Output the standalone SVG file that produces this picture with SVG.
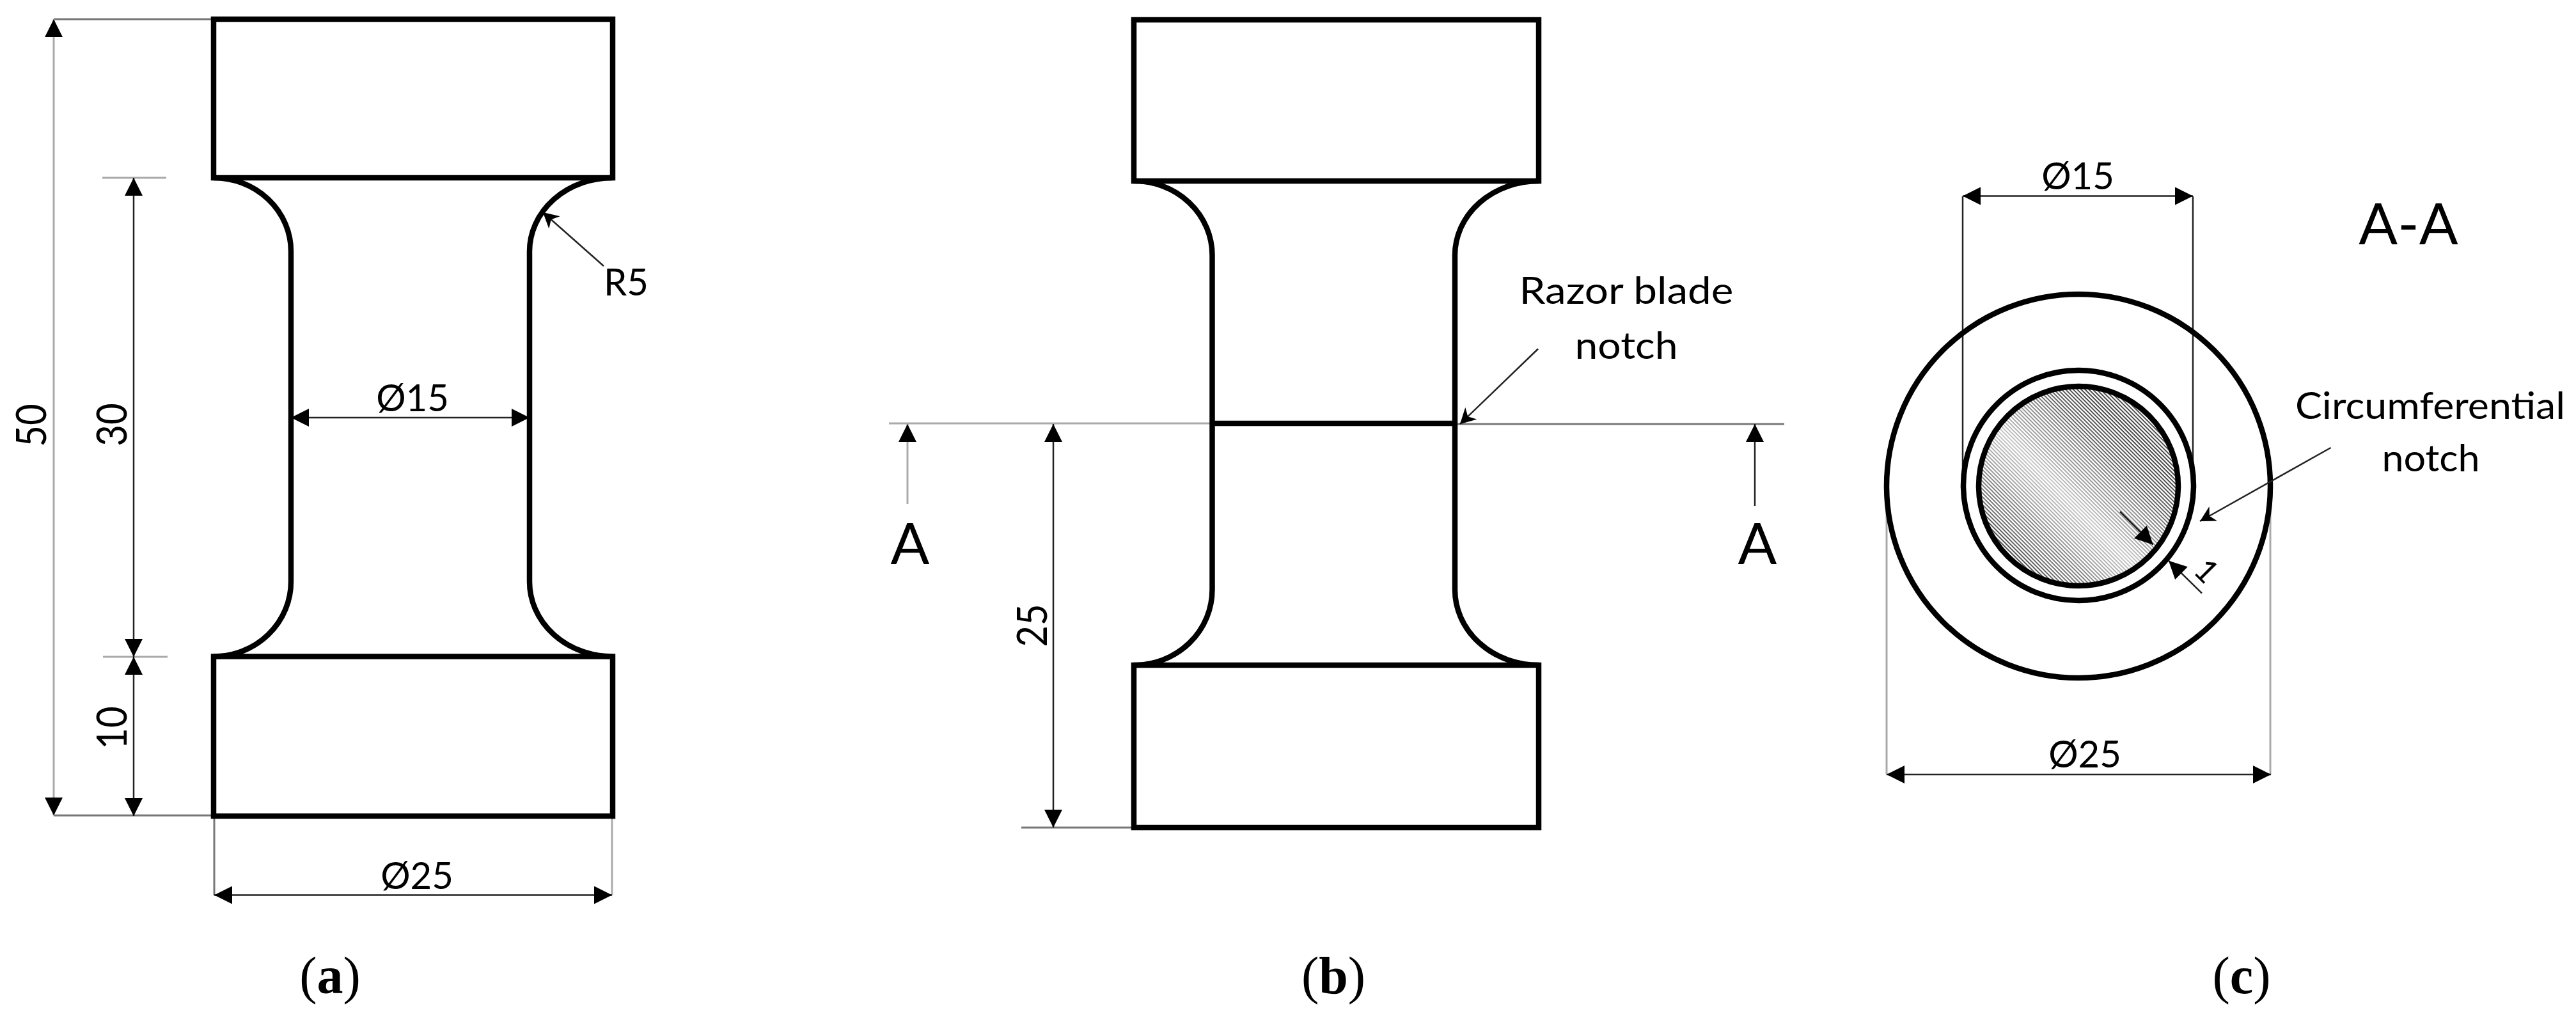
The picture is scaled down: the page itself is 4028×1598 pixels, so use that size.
<svg xmlns="http://www.w3.org/2000/svg" width="4028" height="1598" viewBox="0 0 4028 1598">
<style>
.o{fill:none;stroke:#000;stroke-width:8.500;stroke-linejoin:miter}
.d{fill:none;stroke:#222;stroke-width:2.5}
.g{fill:none;stroke:#aaa;stroke-width:3}
.m{fill:none;stroke:#777;stroke-width:3}
.a{marker-end:url(#ah)}
.b{marker-start:url(#ah);marker-end:url(#ah)}
.s{fill:none;stroke:#222;stroke-width:2.5;marker-end:url(#sh)}
text{font-family:Lato,"Open Sans","Liberation Sans",sans-serif;font-size:58px;fill:#000;text-anchor:middle}
.l{font-size:90px}
.c{font-family:"Liberation Serif","Times New Roman",serif;font-size:82px;fill:#000}
.c tspan{font-weight:bold}
</style>
<defs>
<marker id="ah" markerUnits="userSpaceOnUse" viewBox="0 0 28 28" refX="28" refY="14" markerWidth="28" markerHeight="28" orient="auto-start-reverse"><path d="M0 0L28 14L0 28Z" fill="#000"/></marker>
<marker id="sh" markerUnits="userSpaceOnUse" viewBox="0 0 24 26" refX="24" refY="13" markerWidth="24" markerHeight="26" orient="auto"><path d="M0 0L24 13L0 26L7 13Z" fill="#000"/></marker>
<pattern id="hatch" width="4.3" height="4.3" patternUnits="userSpaceOnUse" patternTransform="rotate(45 3250 760)"><rect width="4.3" height="4.3" fill="#fff"/><rect width="4.3" height="1.9" fill="#444"/></pattern>
<linearGradient id="sheen" gradientUnits="userSpaceOnUse" x1="3140" y1="870" x2="3320" y2="690"><stop offset="0" stop-color="#fff" stop-opacity="0"/><stop offset=".5" stop-color="#fff" stop-opacity=".7"/><stop offset="1" stop-color="#fff" stop-opacity="0"/></linearGradient>
</defs>

<g id="connectors">
<path class="m" d="M84 30H334"/>
<path class="m" d="M84 1275H334"/>
<path class="g" d="M160 278H260M161 1027H262"/>
<path class="g a" d="M84 660V30"/>
<path class="g a" d="M84 660V1275"/>
<path class="d a" d="M209 660V278"/>
<path class="d a" d="M209 660V1027"/>
<path class="d b" d="M209 1027V1276"/>
<path class="d b" d="M455 653H828"/>
<path class="s" d="M944 416L849 332"/>
<path class="m" d="M335 1276V1400"/>
<path class="g" d="M957 1276V1400"/>
<path class="d b" d="M335 1399.500H957"/>

<path class="g" d="M1390 662H1896"/>
<path class="m" d="M2275 663H2790"/>
<path class="m" d="M1597 1294H1773"/>
<path class="d b" d="M1647 663V1294"/>
<path class="g a" d="M1419 788V663"/>
<path class="d a" d="M2744 791V663"/>
<path class="s" d="M2405 545.500L2283 663"/>

<path class="d" d="M3069 307V745M3429 307V745"/>
<path class="g" d="M2950 790V1211M3550 790V1211"/>
<path class="d b" d="M3069 306.500H3429"/>
<path class="d b" d="M2950 1211H3551"/>
</g>

<g id="fig-a">
<path class="o" d="M334 30H958V278H334Z"/>
<path class="o" d="M334 1026.500H958V1276H334Z"/>
<path class="o" d="M334 278A121 115 0 0 1 455 393V909A121 117 0 0 1 334 1026.500"/>
<path class="o" d="M958 278A130 115 0 0 0 828 393V909A130 117 0 0 0 958 1026.500"/>
<text x="645" y="643">Ø15</text>
<text x="979" y="462">R5</text>
<text x="652" y="1390">Ø25</text>
<text transform="translate(72 665) rotate(-90) scale(1 1.14)">50</text>
<text transform="translate(198 664) rotate(-90) scale(1 1.14)">30</text>
<text transform="translate(198 1138) rotate(-90) scale(1 1.14)">10</text>
<text class="c" x="516" y="1553">(<tspan>a</tspan>)</text>
</g>

<g id="fig-b">
<path class="o" d="M1773 31H2406V283H1773Z"/>
<path class="o" d="M1773 1040H2406V1294H1773Z"/>
<path class="o" d="M1773 283A122 116 0 0 1 1895.500 399V922A122 118 0 0 1 1773 1040"/>
<path class="o" d="M2406 283A131 116 0 0 0 2275 399V922A131 118 0 0 0 2406 1040"/>
<path class="o" d="M1896 662H2275"/>
<text transform="translate(1637 978) rotate(-90) scale(1 1.14)">25</text>
<text class="l" x="1423" y="882">A</text>
<text class="l" x="2748" y="882">A</text>
<text x="2543" y="475" textLength="335" lengthAdjust="spacingAndGlyphs">Razor blade</text>
<text x="2543" y="561" textLength="161" lengthAdjust="spacingAndGlyphs">notch</text>
<text class="c" x="2085" y="1553">(<tspan>b</tspan>)</text>
</g>

<g id="fig-c">
<circle class="o" cx="3250" cy="760" r="300"/>
<circle class="o" cx="3250" cy="759" r="180"/>
<circle cx="3250" cy="760" r="156" fill="url(#hatch)"/>
<circle cx="3250" cy="760" r="156" fill="url(#sheen)"/>
<circle class="o" cx="3250" cy="760" r="156"/>
<path class="s" style="marker-end:url(#ah)" d="M3315 800L3366.700 851.700"/>
<path class="s" style="marker-end:url(#ah)" d="M3443 927.700L3391 876.700"/>
<path class="s" d="M3644.600 700L3440 815"/>
<text x="3249" y="296">Ø15</text>
<text x="3260" y="1200">Ø25</text>
<text transform="translate(3438 905) rotate(45)" style="font-size:50px">1</text>
<text class="l" x="3766" y="382">A-A</text>
<text x="3800" y="655" textLength="422" lengthAdjust="spacingAndGlyphs">Circumferential</text>
<text x="3801" y="737" textLength="153" lengthAdjust="spacingAndGlyphs">notch</text>
<text class="c" x="3505" y="1553">(<tspan>c</tspan>)</text>
</g>
</svg>
